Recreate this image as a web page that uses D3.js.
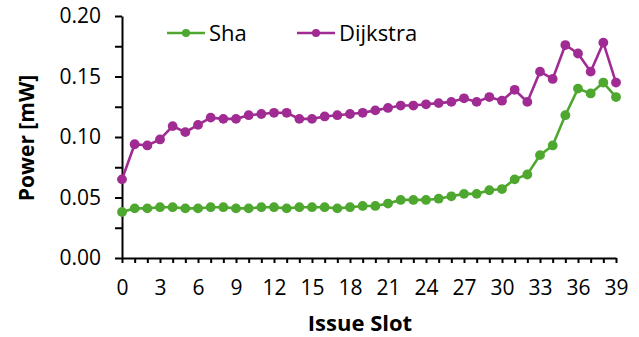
<!DOCTYPE html>
<html>
<head>
<meta charset="utf-8">
<script src="https://cdn.jsdelivr.net/npm/d3@7"></script>
<style>
    body { margin: 0; background: #fff; }
    text { font-family: 'Open Sans', sans-serif; fill: #000; }
</style>
</head>
<body>
<div id="chart"></div>
<script>
// issue slots 0..39
var slots = d3.range(0, 40);

var sha = [0.038, 0.041, 0.041, 0.042, 0.042, 0.041, 0.041, 0.042, 0.042, 0.041,
           0.041, 0.042, 0.042, 0.041, 0.042, 0.042, 0.042, 0.041, 0.042, 0.043,
           0.043, 0.045, 0.048, 0.048, 0.048, 0.049, 0.051, 0.053, 0.053, 0.056,
           0.057, 0.065, 0.069, 0.085, 0.093, 0.118, 0.140, 0.136, 0.145, 0.133];

var dijkstra = [0.065, 0.094, 0.093, 0.098, 0.109, 0.104, 0.110, 0.116, 0.115, 0.115,
                0.118, 0.119, 0.120, 0.120, 0.115, 0.115, 0.117, 0.118, 0.119, 0.120,
                0.122, 0.124, 0.126, 0.126, 0.127, 0.128, 0.129, 0.132, 0.129, 0.133,
                0.130, 0.139, 0.129, 0.154, 0.148, 0.176, 0.169, 0.154, 0.178, 0.145];

var yTicks = [0, 0.025, 0.05, 0.075, 0.1, 0.125, 0.15, 0.175, 0.2];

var series = [
    { name: 'Sha', values: sha, color: '#4ea72e' },
    { name: 'Dijkstra', values: dijkstra, color: '#a02b93' }
];

var svg = d3.select('#chart')
    .append('svg')
    .attr('width', 639)
    .attr('height', 337);

var x = d3.scaleLinear().domain([0, 39]).range([122, 616]);
var y = d3.scaleLinear().domain([0, 0.2]).range([258, 16]);

// x axis, a tick per slot, label every 3rd
svg.append('g')
    .attr('transform', 'translate(0,258)')
    .call(d3.axisBottom(x)
        .tickValues(slots)
        .tickSize(5)
        .tickSizeOuter(0)
        .tickPadding(17)
        .tickFormat(function(d) { return d % 3 === 0 ? d : ''; }));

// y axis, minor ticks at 0.025
svg.append('g')
    .attr('transform', 'translate(122,0)')
    .call(d3.axisLeft(y)
        .tickValues(yTicks)
        .tickSize(7)
        .tickSizeOuter(0)
        .tickPadding(14)
        .tickFormat(function(d) {
            return Math.round(d * 1000) % 50 === 0 ? d3.format('.2f')(d) : '';
        }));

svg.selectAll('.domain, .tick line')
    .attr('stroke', '#000')
    .attr('stroke-width', 2);

svg.selectAll('.tick text')
    .attr('font-size', '21px')
    .attr('font-family', "'Open Sans', sans-serif");

// lines and markers
var line = d3.line()
    .x(function(d, i) { return x(slots[i]); })
    .y(function(d) { return y(d); });

series.forEach(function(s) {
    svg.append('path')
        .datum(s.values)
        .attr('fill', 'none')
        .attr('stroke', s.color)
        .attr('stroke-width', 2.6)
        .attr('d', line);

    svg.append('g')
        .selectAll('circle')
        .data(s.values)
        .enter()
        .append('circle')
        .attr('cx', function(d, i) { return x(slots[i]); })
        .attr('cy', function(d) { return y(d); })
        .attr('r', 4.9)
        .attr('fill', s.color);
});

// legend
var legendX = [167, 297];
series.forEach(function(s, i) {
    var lg = svg.append('g').attr('transform', 'translate(' + legendX[i] + ',33)');
    lg.append('line')
        .attr('x1', 0).attr('x2', 38)
        .attr('y1', 0).attr('y2', 0)
        .attr('stroke', s.color)
        .attr('stroke-width', 2.5);
    lg.append('circle')
        .attr('cx', 19).attr('cy', 0)
        .attr('r', 4)
        .attr('fill', s.color);
    lg.append('text')
        .attr('x', 42)
        .attr('y', 8)
        .attr('font-size', '22px')
        .text(s.name);
});

// axis titles
svg.append('text')
    .attr('x', 360)
    .attr('y', 331)
    .attr('text-anchor', 'middle')
    .attr('font-size', '22px')
    .attr('font-weight', 'bold')
    .text('Issue Slot');

svg.append('text')
    .attr('transform', 'translate(34,138) rotate(-90)')
    .attr('text-anchor', 'middle')
    .attr('font-size', '21px')
    .attr('font-weight', 'bold')
    .text('Power [mW]');
</script>
</body>
</html>
